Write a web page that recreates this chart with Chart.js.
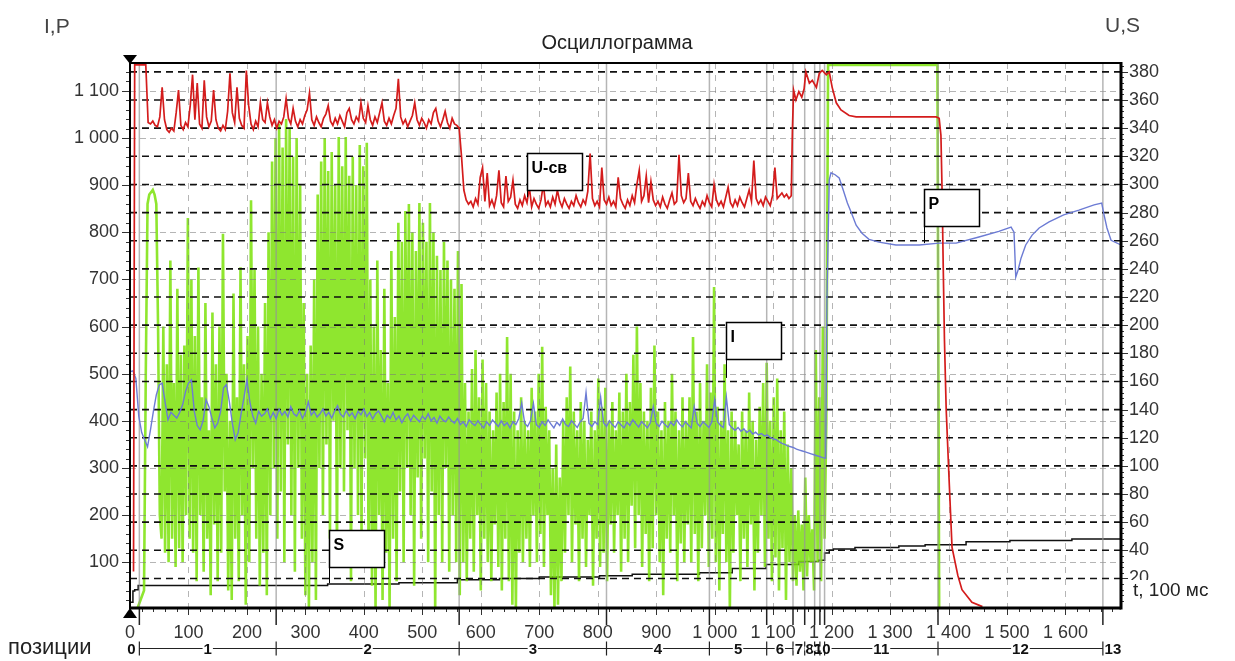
<!DOCTYPE html>
<html>
<head>
<meta charset="utf-8">
<title>Осциллограмма</title>
<script src="https://cdn.jsdelivr.net/npm/chart.js@4.4.1/dist/chart.umd.min.js"></script>
<style>
  html, body { margin: 0; padding: 0; background: #fff; }
  #wrap { width: 1235px; height: 661px; }
</style>
</head>
<body>
<div id="wrap"><canvas id="osc" width="1235" height="661"></canvas></div>
<script>
// time axis in units of 100 ms
const timeTicks = [0, 100, 200, 300, 400, 500, 600, 700, 800, 900, 1000, 1100, 1200, 1300, 1400, 1500, 1600];
// left axis: I, P
const leftTicks = [100, 200, 300, 400, 500, 600, 700, 800, 900, 1000, 1100];
// right axis: U, S
const rightTicks = [20, 40, 60, 80, 100, 120, 140, 160, 180, 200, 220, 240, 260, 280, 300, 320, 340, 360, 380];

// welding positions: boundaries on the time axis and their names
const positionBounds = [16, 250, 563, 815, 991, 1089, 1134, 1154, 1171, 1180, 1188, 1382, 1664];
const positionNames = ['0', '1', '2', '3', '4', '5', '6', '7', '8', '9', '10', '11', '12', '13'];

// U-св, arc voltage: start-up, then samples every uStep, then the end of the weld
const uHeadTimes = [6, 8, 27];
const uHeadValues = [25, 385, 385];
const uStart = 31, uStep = 4;
const uValues = [
  344, 343, 345, 342, 341, 348, 369, 346, 339, 337,
  340, 338, 351, 367, 342, 339, 344, 341, 356, 378,
  346, 372, 343, 340, 374, 348, 341, 345, 367, 346,
  340, 338, 342, 339, 352, 379, 351, 344, 369, 347,
  342, 340, 381, 356, 343, 339, 345, 341, 358, 346,
  344, 358, 348, 342, 346, 340, 345, 343, 348, 361,
  347, 343, 354, 345, 341, 346, 343, 349, 353, 365,
  346, 342, 348, 344, 341, 347, 350, 356, 345, 342,
  347, 343, 349, 345, 341, 351, 354, 346, 343, 348,
  345, 358, 347, 344, 356, 346, 342, 348, 344, 351,
  358, 345, 342, 347, 343, 349, 354, 375, 348, 343,
  346, 341, 345, 349, 358, 346, 342, 347, 344, 340,
  346, 343, 351, 354, 345, 341, 346, 352, 344, 340,
  347, 343, 342, 340,
  320, 296, 289, 286, 288, 284, 290, 286, 305, 312,
  288, 308, 285, 289, 284, 292, 310, 287, 284, 306,
  288, 291, 303, 286, 283, 289, 285, 292, 287, 298,
  284, 290, 286, 283, 289, 300, 285, 288, 284, 291,
  286, 296, 288, 284, 290, 286, 283, 288, 285, 292,
  287, 284, 289, 286, 295, 322, 290, 285, 288, 284,
  312, 289, 286, 291, 285, 288, 284, 305, 290, 286,
  283, 289, 285, 292, 287, 300, 310, 288, 292, 306,
  287, 302, 289, 285, 288, 284, 291, 286, 283, 289,
  294, 286, 288, 321, 292, 287, 290, 308, 288, 285,
  290, 286, 283, 288, 285, 292, 287, 284, 300, 289,
  285, 288, 284, 291, 298, 287, 284, 289, 285, 291,
  287, 284, 290, 296, 288, 317, 290, 286, 289, 285,
  291, 288, 285, 292, 312, 290, 292, 294, 291, 293,
  290, 292
];
const uTailTimes = [1133, 1135, 1139, 1144, 1149, 1153, 1156, 1162, 1167, 1174, 1179, 1184, 1191, 1196, 1201, 1208, 1216, 1230, 1242, 1379, 1384, 1387, 1389, 1391, 1393, 1396, 1401, 1406, 1416, 1423, 1440, 1458];
const uTailValues = [339, 367, 360, 366, 362, 368, 380, 372, 374, 369, 379, 381, 378, 380, 369, 358, 353, 349, 348, 348, 347, 335, 295, 240, 190, 140, 90, 42, 22, 12, 3, 0];

// I, welding current: samples every iStep, then the off-scale part
const iStart = 12, iStep = 3;
const iValues = [
  0, 10, 20, 30, 40, 500, 860, 880, 885, 890,
  880, 860, 600, 200, 150, 600, 120, 520, 100, 740,
  150, 480, 90, 680, 130, 540, 100, 560, 200, 830,
  150, 700, 120, 580, 60, 725, 200, 450, 80, 650,
  150, 380, 30, 630, 180, 520, 60, 600, 120, 797,
  250, 500, 40, 400, 20, 670, 150, 450, 60, 726,
  200, 520, 10, 580, 100, 868, 300, 720, 150, 600,
  50, 500, 120, 650, 30, 800, 200, 950, 300, 1000,
  150, 1030, 250, 980, 100, 1040, 350, 1020, 200, 960,
  80, 1000, 300, 900, 150, 650, 30, 500, 0, 560,
  100, 700, 20, 880, 300, 950, 200, 1000, 350, 930,
  150, 970, 400, 900, 100, 1002, 300, 940, 250, 1002,
  380, 920, 60, 960, 300, 900, 200, 985, 150, 940,
  320, 990, 100, 700, 50, 600, 0, 740, 200, 550,
  20, 680, 120, 480, 0, 760, 150, 620, 60, 820,
  250, 780, 100, 845, 300, 860, 200, 800, 50, 760,
  280, 862, 150, 820, 320, 780, 100, 862, 250, 800,
  0, 750, 200, 720, 100, 780, 300, 740, 80, 700,
  200, 680, 100, 760, 30, 690, 100, 480, 60, 420,
  150, 510, 80, 550, 200, 450, 40, 530, 150, 480,
  100, 420, 60, 380, 180, 460, 90, 500, 40, 440,
  150, 578, 60, 500, 10, 420, 0, 380, 120, 450,
  100, 400, 150, 380, 90, 470, 200, 420, 100, 500,
  160, 557, 90, 430, 200, 380, 30, 300, 0, 350,
  10, 280, 60, 400, 120, 450, 200, 515, 100, 420,
  180, 380, 60, 440, 150, 400, 90, 360, 200, 420,
  50, 380, 150, 490, 90, 430, 120, 470, 60, 400,
  180, 440, 120, 380, 200, 460, 80, 420, 150, 500,
  100, 440, 220, 540, 130, 600, 200, 480, 90, 420,
  160, 400, 60, 470, 130, 560, 200, 420, 100, 380,
  30, 440, 150, 400, 120, 500, 200, 420, 60, 380,
  140, 450, 100, 400, 180, 450, 100, 578, 160, 420,
  60, 480, 130, 400, 200, 520, 90, 460, 150, 684,
  100, 430, 40, 400, 160, 520, 100, 380, 0, 420,
  120, 400, 200, 350, 60, 420, 150, 380, 90, 460,
  180, 400, 40, 360, 120, 430, 200, 480, 90, 523,
  150, 400, 60, 450, 110, 490, 40, 380, 130, 420,
  20, 350, 100, 300, 60, 200, 50, 210, 80, 180,
  40, 280, 70, 200, 100, 170, 40, 550, 100, 450,
  60, 600, 150, 400
];
const iTailTimes = [1194, 1381, 1384];
const iTailValues = [1155, 1155, 0];

// P: samples every pStep, then the cooling part
const pStart = 0, pStep = 5;
const pValues = [
  504, 506, 490, 410, 375, 360, 345, 381, 420, 455,
  476, 480, 440, 402, 418, 412, 406, 418, 434, 462,
  480, 487, 420, 390, 381, 400, 445, 430, 406, 385,
  395, 420, 470, 477, 440, 395, 360, 375, 415, 450,
  487, 440, 410, 395, 420, 410, 415, 425, 405, 418,
  405, 425, 412, 420, 408, 430, 415, 410, 422, 405,
  418, 440, 412, 420, 408, 415, 425, 410, 418, 406,
  420, 432, 414, 408, 422, 410, 417, 405, 420, 413,
  425, 409, 418, 404, 415, 421, 410, 398, 412, 405,
  418, 402, 410, 396, 408, 415, 400, 412, 405, 398,
  410, 403, 415, 400, 407, 395, 410, 402, 398, 408,
  400, 395, 405, 392, 398, 388, 402, 395, 390, 400,
  392, 385, 398, 390, 402, 395, 388, 400, 390, 396,
  385, 398, 392, 405, 438, 395, 388, 400, 437, 392,
  386, 398, 390, 402, 393, 385, 397, 390, 404, 392,
  388, 400, 393, 386, 398, 405, 460, 395, 388, 398,
  392, 450, 396, 388, 400, 392, 386, 398, 391, 385,
  397, 390, 402, 394, 387, 398, 392, 385, 396, 430,
  395, 388, 399, 392, 386, 397, 390, 402, 393, 387,
  398, 391, 385, 430, 395, 388, 398, 392, 386, 397,
  445, 398, 390, 386, 450, 392, 385, 380, 386, 378,
  383, 375, 380, 372, 376, 370, 373, 368, 370, 365,
  362, 360, 356, 352, 350, 347, 345, 343, 340, 338,
  336, 334, 332, 330, 328, 326, 324, 322, 321
];
const pTailTimes = [1192, 1196, 1199, 1206, 1213, 1220, 1227, 1234, 1242, 1252, 1264, 1281, 1310, 1350, 1384, 1413, 1452, 1486, 1507, 1512, 1515, 1519, 1524, 1532, 1543, 1555, 1572, 1597, 1623, 1649, 1662, 1666, 1671, 1678, 1695];
const pTailValues = [656, 911, 926, 922, 915, 889, 862, 841, 815, 798, 785, 779, 773, 773, 777, 777, 790, 802, 811, 800, 705, 720, 745, 773, 794, 809, 822, 837, 847, 858, 862, 837, 809, 783, 773];

// S: stepwise level
const sTimes = [0, 5, 8, 14, 338, 460, 560, 632, 700, 803, 859, 974, 1030, 1088, 1144, 1178, 1188, 1196, 1203, 1240, 1315, 1360, 1430, 1505, 1611, 1695];
const sValues = [0, 3, 11, 12, 15, 16, 17, 19, 20, 21, 22, 23, 24, 27, 30, 32, 33, 38, 40, 41, 42, 43, 44, 46, 47, 48];

// series labels drawn in boxes with a leader line to the curve
const notes = [
  { text: 'U-св', t: 679, v: 291, axis: 'yR', rise: 7 },
  { text: 'P', t: 1358, v: 777, axis: 'yL', rise: 17 },
  { text: 'I', t: 1020, v: 491, axis: 'yL', rise: 19 },
  { text: 'S', t: 341, v: 16.7, axis: 'yR', rise: 16 }
];

const FONT = "'Liberation Sans', Arial, sans-serif";

function pairs(times, values) {
  return times.map((t, i) => ({ x: t, y: values[i] }));
}
function sampled(start, step, values) {
  return values.map((v, k) => ({ x: start + k * step, y: v }));
}
function fmt(v) {
  return String(v).replace(/\B(?=(\d{3})+(?!\d))/g, ' ');
}

const uData = pairs(uHeadTimes, uHeadValues)
  .concat(sampled(uStart, uStep, uValues))
  .concat(pairs(uTailTimes, uTailValues));
const iData = sampled(iStart, iStep, iValues).concat(pairs(iTailTimes, iTailValues));
const pData = sampled(pStart, pStep, pValues).concat(pairs(pTailTimes, pTailValues));
const sData = pairs(sTimes, sValues);

function line(c, x1, y1, x2, y2) {
  c.beginPath();
  c.moveTo(x1, y1);
  c.lineTo(x2, y2);
  c.stroke();
}

const decor = {
  id: 'decor',
  beforeDraw(chart) {
    const c = chart.ctx;
    c.save();
    c.fillStyle = '#fff';
    c.fillRect(0, 0, chart.width, chart.height);
    c.restore();
  },
  // grid goes over the current trace, under the other curves
  afterDatasetDraw(chart, args) {
    if (chart.data.datasets[args.index].label !== 'I') return;
    const c = chart.ctx, a = chart.chartArea, sc = chart.scales;
    c.save();
    c.lineWidth = 1;
    c.strokeStyle = 'rgba(120,120,120,0.55)';
    c.setLineDash([6, 4]);
    leftTicks.forEach(v => {
      const y = Math.round(sc.yL.getPixelForValue(v)) + 0.5;
      line(c, a.left, y, a.right, y);
    });
    c.setLineDash([6, 6]);
    timeTicks.forEach(t => {
      if (t === 0) return;
      const x = Math.round(sc.x.getPixelForValue(t)) + 0.5;
      line(c, x, a.top, x, a.bottom);
    });
    c.setLineDash([]);
    c.lineWidth = 1.5;
    c.strokeStyle = 'rgba(150,150,150,0.7)';
    positionBounds.forEach(t => {
      const x = sc.x.getPixelForValue(t);
      line(c, x, a.top, x, a.bottom);
    });
    c.lineWidth = 1.6;
    c.strokeStyle = '#111';
    c.setLineDash([7, 5]);
    rightTicks.forEach(v => {
      const y = sc.yR.getPixelForValue(v);
      line(c, a.left, y, a.right, y);
    });
    c.restore();
  },
  afterDraw(chart) {
    const c = chart.ctx, a = chart.chartArea, sc = chart.scales;
    c.save();

    // minor and major ticks
    c.strokeStyle = '#333';
    c.lineWidth = 1;
    for (let t = 0; t <= 1680; t += 20) {
      const x = Math.round(sc.x.getPixelForValue(t)) + 0.5;
      line(c, x, a.bottom, x, a.bottom + (t % 100 === 0 ? 7 : 4));
    }
    for (let v = 20; v <= 1140; v += 20) {
      const y = Math.round(sc.yL.getPixelForValue(v)) + 0.5;
      line(c, a.left, y, a.left - (v % 100 === 0 ? 8 : 4), y);
    }
    for (let v = 4; v <= 384; v += 4) {
      const y = Math.round(sc.yR.getPixelForValue(v)) + 0.5;
      line(c, a.right, y, a.right + (v % 20 === 0 ? 7 : 3), y);
    }
    c.lineWidth = 1.5;
    c.strokeStyle = '#222';
    positionBounds.forEach(t => {
      const x = sc.x.getPixelForValue(t);
      line(c, x, a.bottom, x, a.bottom + 17);
    });

    // plot frame
    c.strokeStyle = '#000';
    c.lineWidth = 2;
    line(c, a.left - 1, a.top, a.right, a.top);
    line(c, a.left, a.top, a.left, a.bottom);
    c.lineWidth = 3;
    line(c, a.right, a.top - 1, a.right, a.bottom + 1.5);
    line(c, a.left - 1, a.bottom, a.right, a.bottom);

    // cursor markers
    c.fillStyle = '#000';
    c.beginPath();
    c.moveTo(a.left - 7, a.top - 8); c.lineTo(a.left + 7, a.top - 8); c.lineTo(a.left, a.top + 1);
    c.closePath(); c.fill();
    c.beginPath();
    c.moveTo(a.left - 7, a.bottom + 10); c.lineTo(a.left + 7, a.bottom + 10); c.lineTo(a.left, a.bottom);
    c.closePath(); c.fill();

    // axis captions and title
    c.textBaseline = 'middle';
    c.fillStyle = '#444';
    c.font = '21px ' + FONT;
    c.textAlign = 'left';
    c.fillText('I,P', 44, 27);
    c.fillText('U,S', 1105, 26);
    c.fillStyle = '#222';
    c.font = '20px ' + FONT;
    c.textAlign = 'center';
    c.fillText('Осциллограмма', 617, 43);
    c.textAlign = 'left';
    c.font = '22px ' + FONT;
    c.fillText('позиции', 8, 648);
    c.fillStyle = '#fff';
    c.fillRect(1128, 580, 105, 20);
    c.fillStyle = '#222';
    c.font = '19px ' + FONT;
    c.fillText('t, 100 мс', 1133, 591);

    // labelled boxes
    c.font = 'bold 16px ' + FONT;
    notes.forEach(n => {
      const x = Math.round(sc.x.getPixelForValue(n.t)) + 0.5;
      const y = sc[n.axis].getPixelForValue(n.v);
      const bottom = Math.round(y - n.rise) + 0.5;
      const top = bottom - 37;
      c.fillStyle = '#fff';
      c.fillRect(x, top, 55, 37);
      c.strokeStyle = '#000';
      c.lineWidth = 1.5;
      c.strokeRect(x, top, 55, 37);
      c.lineWidth = 1;
      line(c, x, bottom, x, y);
      c.fillStyle = '#000';
      c.fillText(n.text, x + 4, top + 15);
    });

    // positions row
    const rowY = 648.5;
    const bx = positionBounds.map(t => sc.x.getPixelForValue(t));
    c.strokeStyle = '#222';
    c.lineWidth = 1.2;
    line(c, bx[0], rowY, bx[bx.length - 1], rowY);
    bx.forEach(x => line(c, x, rowY - 7, x, rowY + 7));
    c.font = 'bold 15px ' + FONT;
    c.textAlign = 'center';
    positionNames.forEach((name, i) => {
      let x;
      if (i === 0) x = bx[0] - 8;
      else if (i === positionNames.length - 1) x = bx[bx.length - 1] + 10;
      else x = (bx[i - 1] + bx[i]) / 2;
      const w = c.measureText(name).width;
      if (i > 0 && i < positionNames.length - 1) {
        c.fillStyle = '#fff';
        c.fillRect(x - w / 2 - 1, rowY - 2, w + 2, 4);
      }
      c.fillStyle = '#111';
      c.fillText(name, x, rowY + 1);
    });
    c.restore();
  }
};

new Chart(document.getElementById('osc'), {
  type: 'line',
  data: {
    datasets: [
      { label: 'U-св', data: uData, yAxisID: 'yR', borderColor: '#d41c1c', borderWidth: 1.7, order: 1 },
      { label: 'P', data: pData, yAxisID: 'yL', borderColor: '#6c7bd4', borderWidth: 1.4, order: 2 },
      { label: 'I', data: iData, yAxisID: 'yL', borderColor: 'rgba(128,226,18,0.88)', borderWidth: 2.6, order: 3 },
      { label: 'S', data: sData, yAxisID: 'yR', borderColor: '#111', borderWidth: 1.5, stepped: 'after', order: 4 }
    ]
  },
  options: {
    responsive: false,
    animation: false,
    devicePixelRatio: 1,
    events: [],
    layout: { padding: { top: 63, left: 0, right: 0, bottom: 0 } },
    elements: { point: { radius: 0 }, line: { tension: 0 } },
    plugins: { legend: { display: false }, tooltip: { enabled: false }, title: { display: false } },
    scales: {
      x: {
        type: 'linear', position: 'bottom', min: 0, max: 1695,
        grid: { display: false, drawTicks: false }, border: { display: false },
        afterBuildTicks: s => { s.ticks = timeTicks.map(v => ({ value: v })); },
        afterFit: s => { s.height = 53; },
        ticks: { autoSkip: false, maxRotation: 0, padding: 14, color: '#333', font: { family: FONT, size: 18 }, callback: v => fmt(v) }
      },
      yL: {
        type: 'linear', position: 'left', min: 3, max: 1159,
        grid: { display: false, drawTicks: false }, border: { display: false },
        afterBuildTicks: s => { s.ticks = leftTicks.map(v => ({ value: v })); },
        afterFit: s => { s.width = 130; },
        ticks: { padding: 11, color: '#333', font: { family: FONT, size: 18 }, callback: v => fmt(v) }
      },
      yR: {
        type: 'linear', position: 'right', min: -1, max: 386.3,
        grid: { display: false, drawTicks: false }, border: { display: false },
        afterBuildTicks: s => { s.ticks = rightTicks.map(v => ({ value: v })); },
        afterFit: s => { s.width = 114; },
        ticks: { padding: 8, color: '#333', font: { family: FONT, size: 18 }, callback: v => fmt(v) }
      }
    }
  },
  plugins: [decor]
});
</script>
</body>
</html>
